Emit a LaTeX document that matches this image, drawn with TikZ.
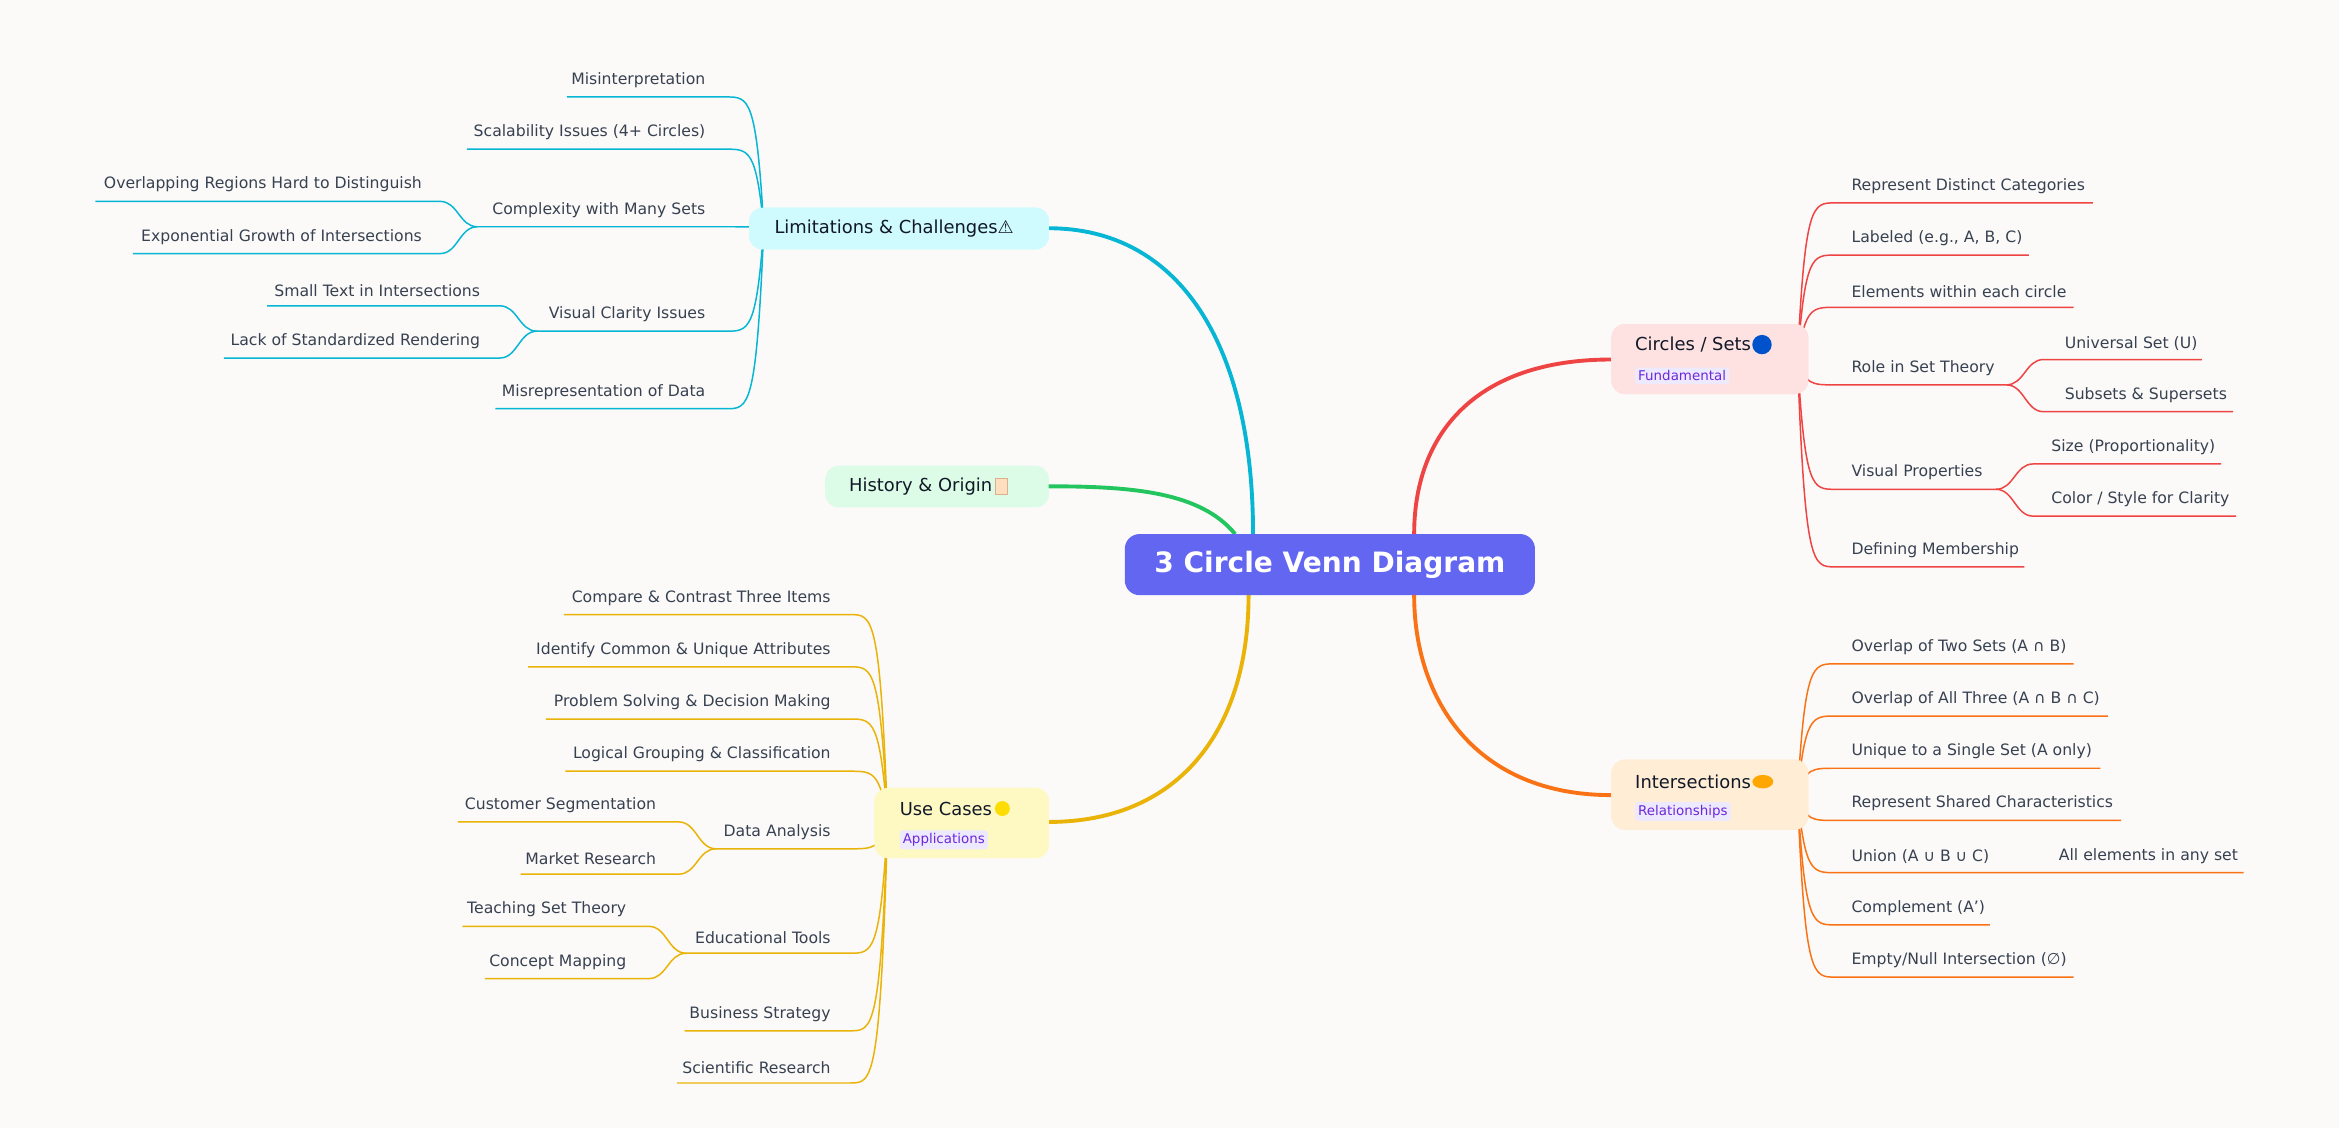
\documentclass[tikz,border=0pt]{standalone}
\usepackage{fontspec}
\usetikzlibrary{shapes.geometric,positioning}
\setmainfont{DejaVu Sans}
\newcounter{lfc}
\definecolor{bg}{HTML}{FBFAF8}
\definecolor{txt}{HTML}{374151}
\definecolor{dark}{HTML}{111827}
\definecolor{cy}{HTML}{06B6D4}
\definecolor{gr}{HTML}{22C55E}
\definecolor{ye}{HTML}{EAB308}
\definecolor{rd}{HTML}{EF4444}
\definecolor{og}{HTML}{F97316}
\definecolor{cyf}{HTML}{CFFAFE}
\definecolor{grf}{HTML}{DCFCE7}
\definecolor{yef}{HTML}{FEF9C3}
\definecolor{rdf}{HTML}{FEE2E2}
\definecolor{ogf}{HTML}{FFEDD5}
\definecolor{tagbg}{HTML}{EDE9FE}
\definecolor{tagfg}{HTML}{6D28D9}
\tikzset{
 leaf/.style={font=\fontsize{10.5}{12}\selectfont, text=txt, inner sep=0pt},
 br/.style={rounded corners=9pt, minimum height=#1, anchor=north west},
 btext/.style={font=\fontsize{12}{14}\selectfont, text=dark, inner sep=0pt},
 tag/.style={font=\fontsize{9}{10}\selectfont, text=tagfg, fill=tagbg, inner sep=2pt, rounded corners=2pt},
 main/.style={line width=2.6pt},
 ln/.style={line width=1pt}
}
% right leaf: col, sx, sy, ly, tx, ex, text
\newcommand\LeafR[7]{\stepcounter{lfc}%
 \draw[ln,#1] (#2,#3) .. controls ({#2+5},#4) and ({#2+10},#4) .. ({#2+25},#4) -- (#6,#4);
 \node[leaf,anchor=south west] (L\arabic{lfc}) at (#5,{#4-6}) {#7};}
\newcommand\SubR[7]{\stepcounter{lfc}%
 \draw[ln,#1] (#2,#3) .. controls ({#2+12},#3) and ({#2+13},#4) .. ({#2+25},#4) -- (#6,#4);
 \node[leaf,anchor=south west] (L\arabic{lfc}) at (#5,{#4-6}) {#7};}
\newcommand\LeafL[7]{\stepcounter{lfc}%
 \draw[ln,#1] (#2,#3) .. controls ({#2-5},#4) and ({#2-10},#4) .. ({#2-25},#4) -- (#6,#4);
 \node[leaf,anchor=south east] (L\arabic{lfc}) at (#5,{#4-6}) {#7};}
\newcommand\SubL[7]{\stepcounter{lfc}%
 \draw[ln,#1] (#2,#3) .. controls ({#2-12},#3) and ({#2-13},#4) .. ({#2-25},#4) -- (#6,#4);
 \node[leaf,anchor=south east] (L\arabic{lfc}) at (#5,{#4-6}) {#7};}
\begin{document}
\begin{tikzpicture}[x=1pt,y=-1pt]
\fill[bg] (0,0) rectangle (1568,756);
\useasboundingbox (0,0) rectangle (1568,756);
% nodes (boxes)
\node[fill=cyf,br=28pt,minimum width=201pt] (lim) at (502,139) {};
\node[fill=grf,br=28pt,minimum width=150pt] (his) at (553,312) {};
\node[fill=yef,br=47pt,minimum width=117pt] (use) at (586,528) {};
\node[fill=rdf,br=47pt,minimum width=132pt] (cir) at (1080,217) {};
\node[fill=ogf,br=47pt,minimum width=132pt] (int) at (1080,509) {};
\coordinate (limE) at (703,153);
\coordinate (hisE) at (703,326);
\coordinate (useE) at (703,551);
\coordinate (cirW) at (1080,241);
\coordinate (intW) at (1080,533);
\coordinate (rT1) at (840,358);
\coordinate (rT2) at (828,358);
\coordinate (rB1) at (837,399);
\coordinate (rT3) at (948,358);
\coordinate (rB3) at (948,399);
% main branches
\draw[main,cy] (rT1) .. controls (840,230) and (790,153) .. (limE);
\draw[main,gr] (rT2) .. controls (805,330) and (760,326) .. (hisE);
\draw[main,ye] (rB1) .. controls (837,490) and (790,551) .. (useE);
\draw[main,rd] (rT3) .. controls (948,290) and (990,241) .. (cirW);
\draw[main,og] (rB3) .. controls (948,470) and (990,533) .. (intW);
% Circles leaves
\LeafR{rd}{1205}{241}{136}{1241}{1403}{Represent Distinct Categories}
\LeafR{rd}{1205}{241}{171}{1241}{1360}{Labeled (e.g., A, B, C)}
\LeafR{rd}{1205}{241}{206}{1241}{1390}{Elements within each circle}
\LeafR{rd}{1205}{241}{258}{1241}{1345}{Role in Set Theory}
\SubR{rd}{1345}{258}{241}{1384}{1476}{Universal Set (U)}
\SubR{rd}{1345}{258}{276}{1384}{1497}{Subsets \& Supersets}
\LeafR{rd}{1205}{241}{328}{1241}{1338}{Visual Properties}
\SubR{rd}{1338}{328}{311}{1375}{1489}{Size (Proportionality)}
\SubR{rd}{1338}{328}{346}{1375}{1499}{Color / Style for Clarity}
\LeafR{rd}{1205}{241}{380}{1241}{1357}{Defining Membership}
% Intersections leaves
\LeafR{og}{1205}{533}{445}{1241}{1390}{Overlap of Two Sets (A ∩ B)}
\LeafR{og}{1205}{533}{480}{1241}{1413}{Overlap of All Three (A ∩ B ∩ C)}
\LeafR{og}{1205}{533}{515}{1241}{1408}{Unique to a Single Set (A only)}
\LeafR{og}{1205}{533}{550}{1241}{1422}{Represent Shared Characteristics}
\LeafR{og}{1205}{533}{585}{1241}{1504}{Union (A ∪ B ∪ C)}
\node[leaf,anchor=south west] (allel) at (1380,579) {All elements in any set};
\LeafR{og}{1205}{533}{620}{1241}{1334}{Complement (A')}
\LeafR{og}{1205}{533}{655}{1241}{1390}{Empty/Null Intersection (∅)}
% Limitations leaves
\LeafL{cy}{512}{153}{65}{473}{380}{Misinterpretation}
\LeafL{cy}{512}{153}{100}{473}{313}{Scalability Issues (4+ Circles)}
\LeafL{cy}{512}{153}{152}{473}{320}{Complexity with Many Sets}
\SubL{cy}{320}{152}{135}{283}{64}{Overlapping Regions Hard to Distinguish}
\SubL{cy}{320}{152}{170}{283}{89}{Exponential Growth of Intersections}
\LeafL{cy}{512}{153}{222}{473}{360}{Visual Clarity Issues}
\SubL{cy}{360}{222}{205}{322}{179}{Small Text in Intersections}
\SubL{cy}{360}{222}{240}{322}{150}{Lack of Standardized Rendering}
\LeafL{cy}{512}{153}{274}{473}{332}{Misrepresentation of Data}
% Use cases leaves
\LeafL{ye}{595}{551}{412}{557}{378}{Compare \& Contrast Three Items}
\LeafL{ye}{595}{551}{447}{557}{354}{Identify Common \& Unique Attributes}
\LeafL{ye}{595}{551}{482}{557}{366}{Problem Solving \& Decision Making}
\LeafL{ye}{595}{551}{517}{557}{379}{Logical Grouping \& Classification}
\LeafL{ye}{595}{551}{569}{557}{480}{Data Analysis}
\SubL{ye}{480}{569}{551}{440}{307}{Customer Segmentation}
\SubL{ye}{480}{569}{586}{440}{349}{Market Research}
\LeafL{ye}{595}{551}{639}{557}{460}{Educational Tools}
\SubL{ye}{460}{639}{621}{420}{310}{Teaching Set Theory}
\SubL{ye}{460}{639}{656}{420}{325}{Concept Mapping}
\LeafL{ye}{595}{551}{691}{557}{459}{Business Strategy}
\LeafL{ye}{595}{551}{726}{557}{454}{Scientific Research}
% redraw boxes on top
\node[fill=cyf,br=28pt,minimum width=201pt] (limB) at (502,139) {};
\node[fill=yef,br=47pt,minimum width=117pt] (useB) at (586,528) {};
\node[fill=rdf,br=47pt,minimum width=132pt] (cirB) at (1080,217) {};
\node[fill=ogf,br=47pt,minimum width=132pt] (intB) at (1080,509) {};
% box texts
\node[btext,anchor=west] (limT) at (519,153) {Limitations \& Challenges⚠};
\node[btext,anchor=west] (hisT) at (569,326) {History \& Origin};
\node[fill=orange!25!white,draw=brown!60,line width=0.4pt,minimum width=8pt,minimum height=11pt,inner sep=0pt,right=1.5pt of hisT] (hisI) {};
\node[btext,anchor=west] (useT) at (603,542) {Use Cases};
\node[circle,fill=yellow!80!orange,minimum size=10pt,inner sep=0pt,right=1.5pt of useT] (useI) {};
\node[tag,anchor=west] (useG) at (603,563) {Applications};
\node[btext,anchor=west] (cirT) at (1096,231) {Circles / Sets};
\node[circle,fill=blue!60!cyan!80!black,minimum size=13pt,inner sep=0pt,right=0.5pt of cirT] (cirI) {};
\node[tag,anchor=west] (cirG) at (1096,252) {Fundamental};
\node[btext,anchor=west] (intT) at (1096,524) {Intersections};
\node[ellipse,fill=orange!70!yellow,minimum width=14pt,minimum height=9pt,inner sep=0pt,right=0.5pt of intT] (intI) {};
\node[tag,anchor=west] (intG) at (1096,544) {Relationships};
% root
\node[fill={rgb,255:red,99;green,102;blue,241},rounded corners=10pt,minimum width=275pt,minimum height=41pt,text=white,font=\bfseries\fontsize{18.8}{22}\selectfont] (root) at (891.5,378.5) {3 Circle Venn Diagram};
\end{tikzpicture}
\end{document}
